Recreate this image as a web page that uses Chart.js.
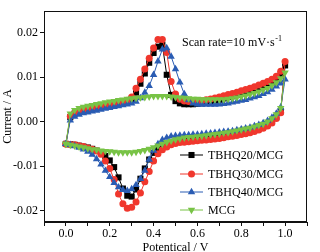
<!DOCTYPE html>
<html><head><meta charset="utf-8">
<script src="https://cdn.jsdelivr.net/npm/chart.js@4.4.1/dist/chart.umd.min.js"></script>
<style>html,body{margin:0;padding:0;background:#fff}#wrap{width:320px;height:252px;position:relative}</style>
</head><body><div id="wrap"><canvas id="c" width="320" height="252"></canvas></div>
<script>
const potential = [0.00,0.02,0.04,0.06,0.08,0.10,0.12,0.14,0.16,0.18,0.20,0.22,0.24,0.26,0.28,0.30,0.32,0.34,0.36,0.38,0.40,0.42,0.44,0.46,0.48,0.50,0.52,0.54,0.56,0.58,0.60,0.62,0.64,0.66,0.68,0.70,0.72,0.74,0.76,0.78,0.80,0.82,0.84,0.86,0.88,0.90,0.92,0.94,0.96,0.98,1.00];

const seriesNames = ['TBHQ20/MCG','TBHQ30/MCG','TBHQ40/MCG','MCG'];
const seriesColors = ['#000000','#f0372d','#2a5cb3','#78c346'];
const xTitle = 'Potentical / V';
const yTitle = 'Current / A';

// forward (anodic) scan, current at each potential
const tbhq20Anodic = [-0.0050,0.0010,0.0018,0.0022,0.0025,0.0027,0.0029,0.0031,0.0033,0.0035,0.0037,0.0039,0.0041,0.0043,0.0046,0.0051,0.0065,0.0085,0.0108,0.0132,0.0154,0.0168,0.0172,0.0105,0.0060,0.0046,0.0041,0.0039,0.0039,0.0039,0.0040,0.0041,0.0043,0.0045,0.0047,0.0049,0.0052,0.0055,0.0057,0.0060,0.0063,0.0066,0.0069,0.0072,0.0075,0.0079,0.0083,0.0088,0.0095,0.0106,0.0126];
const tbhq30Anodic = [-0.0050,0.0012,0.0020,0.0024,0.0027,0.0029,0.0031,0.0033,0.0035,0.0037,0.0039,0.0041,0.0043,0.0045,0.0048,0.0055,0.0075,0.0095,0.0118,0.0142,0.0165,0.0184,0.0184,0.0155,0.0090,0.0062,0.0050,0.0046,0.0045,0.0045,0.0046,0.0047,0.0049,0.0051,0.0053,0.0055,0.0058,0.0061,0.0063,0.0066,0.0069,0.0072,0.0075,0.0078,0.0082,0.0086,0.0090,0.0095,0.0102,0.0113,0.0135];
const tbhq40Anodic = [-0.0050,0.0003,0.0011,0.0016,0.0019,0.0021,0.0023,0.0025,0.0027,0.0029,0.0031,0.0033,0.0035,0.0037,0.0039,0.0041,0.0045,0.0053,0.0065,0.0080,0.0105,0.0135,0.0162,0.0165,0.0146,0.0118,0.0088,0.0062,0.0048,0.0041,0.0039,0.0038,0.0038,0.0038,0.0038,0.0039,0.0040,0.0041,0.0043,0.0045,0.0047,0.0049,0.0052,0.0055,0.0058,0.0062,0.0066,0.0072,0.0079,0.0086,0.0095];
const mcgAnodic = [-0.0050,0.0018,0.0026,0.0030,0.0033,0.0035,0.0037,0.0039,0.0041,0.0043,0.0045,0.0046,0.0048,0.0049,0.0051,0.0052,0.0053,0.0054,0.0055,0.0056,0.0057,0.0057,0.0057,0.0057,0.0056,0.0055,0.0054,0.0053,0.0052,0.0051,0.0051,0.0050,0.0050,0.0050,0.0050,0.0050,0.0050,0.0051,0.0052,0.0054,0.0056,0.0058,0.0061,0.0064,0.0067,0.0071,0.0075,0.0081,0.0088,0.0097,0.0110];

// reverse (cathodic) scan, current at each potential
const tbhq20Cathodic = [-0.0050,-0.0051,-0.0052,-0.0054,-0.0056,-0.0058,-0.0061,-0.0065,-0.0070,-0.0077,-0.0087,-0.0102,-0.0125,-0.0150,-0.0166,-0.0168,-0.0152,-0.0128,-0.0105,-0.0085,-0.0070,-0.0060,-0.0054,-0.0051,-0.0048,-0.0045,-0.0043,-0.0042,-0.0041,-0.0040,-0.0039,-0.0038,-0.0037,-0.0036,-0.0035,-0.0033,-0.0032,-0.0030,-0.0029,-0.0027,-0.0025,-0.0023,-0.0021,-0.0018,-0.0015,-0.0011,-0.0006,0.0001,0.0010,0.0023,0.0126];
const tbhq30Cathodic = [-0.0050,-0.0051,-0.0052,-0.0054,-0.0056,-0.0059,-0.0062,-0.0066,-0.0073,-0.0088,-0.0105,-0.0130,-0.0162,-0.0184,-0.0194,-0.0192,-0.0180,-0.0160,-0.0135,-0.0112,-0.0088,-0.0072,-0.0063,-0.0057,-0.0052,-0.0049,-0.0047,-0.0046,-0.0045,-0.0044,-0.0043,-0.0042,-0.0041,-0.0040,-0.0039,-0.0038,-0.0036,-0.0034,-0.0033,-0.0031,-0.0029,-0.0027,-0.0025,-0.0022,-0.0019,-0.0015,-0.0010,-0.0003,0.0007,0.0020,0.0135];
const tbhq40Cathodic = [-0.0050,-0.0052,-0.0055,-0.0058,-0.0062,-0.0067,-0.0074,-0.0084,-0.0096,-0.0110,-0.0124,-0.0137,-0.0147,-0.0153,-0.0155,-0.0151,-0.0142,-0.0128,-0.0110,-0.0085,-0.0065,-0.0050,-0.0041,-0.0036,-0.0033,-0.0032,-0.0031,-0.0030,-0.0030,-0.0029,-0.0029,-0.0028,-0.0027,-0.0026,-0.0025,-0.0024,-0.0023,-0.0022,-0.0021,-0.0019,-0.0017,-0.0015,-0.0013,-0.0010,-0.0007,-0.0003,0.0002,0.0009,0.0018,0.0032,0.0095];
const mcgCathodic = [-0.0050,-0.0052,-0.0054,-0.0056,-0.0058,-0.0060,-0.0062,-0.0063,-0.0065,-0.0066,-0.0067,-0.0068,-0.0069,-0.0069,-0.0069,-0.0069,-0.0068,-0.0066,-0.0064,-0.0061,-0.0058,-0.0054,-0.0050,-0.0046,-0.0043,-0.0040,-0.0038,-0.0036,-0.0035,-0.0034,-0.0033,-0.0032,-0.0031,-0.0029,-0.0028,-0.0027,-0.0025,-0.0024,-0.0022,-0.0020,-0.0018,-0.0016,-0.0014,-0.0011,-0.0008,-0.0005,0.0000,0.0007,0.0016,0.0030,0.0110];

const xTicks = [-0.1,0.0,0.1,0.2,0.3,0.4,0.5,0.6,0.7,0.8,0.9,1.0,1.1];
const xTickLabels = ['','0.0','','0.2','','0.4','','0.6','','0.8','','1.0',''];
const yTicks = [-0.02,-0.01,0.00,0.01,0.02];
const yTickLabels = ['-0.02','-0.01','0.00','0.01','0.02'];

const anodic = [tbhq20Anodic, tbhq30Anodic, tbhq40Anodic, mcgAnodic];
const cathodic = [tbhq20Cathodic, tbhq30Cathodic, tbhq40Cathodic, mcgCathodic];
const styles = [
  {pointStyle:'rect', radius:4.3, rotation:0},
  {pointStyle:'circle', radius:3.5, rotation:0},
  {pointStyle:'triangle', radius:4.3, rotation:0},
  {pointStyle:'triangle', radius:4.3, rotation:180}
];

function loop(i){
  const pts = [];
  potential.forEach((p,k)=>pts.push({x:p, y:anodic[i][k]}));
  for(let k=potential.length-2;k>=0;k--) pts.push({x:potential[k], y:cathodic[i][k]});
  return pts;
}

const FONT = 'Liberation Serif';
const datasets = seriesNames.map((n,i)=>({
  label:n, data:loop(i), showLine:true, tension:0,
  borderColor:seriesColors[i], backgroundColor:seriesColors[i], borderWidth:1,
  pointStyle:styles[i].pointStyle, pointRadius:styles[i].radius, pointRotation:styles[i].rotation,
  pointBorderWidth:0, pointBackgroundColor:seriesColors[i], pointHoverRadius:styles[i].radius,
  order: 4-i
}));

function drawMarker(ctx, st, color, x, y){
  ctx.save(); ctx.fillStyle=color; ctx.translate(x,y);
  ctx.rotate(st.rotation*Math.PI/180);
  ctx.beginPath();
  const r = st.radius;
  if(st.pointStyle==='rect'){ const s=r/Math.SQRT2; ctx.rect(-s,-s,2*s,2*s); }
  else if(st.pointStyle==='circle'){ ctx.arc(0,0,r,0,Math.PI*2); }
  else { for(let a=0;a<3;a++){ const ang=-Math.PI/2+a*2*Math.PI/3; const px=r*Math.cos(ang), py=r*Math.sin(ang); a?ctx.lineTo(px,py):ctx.moveTo(px,py);} ctx.closePath(); }
  ctx.fill(); ctx.restore();
}

const decor = {
  id:'decor',
  afterDatasetsDraw(chart){
    const ctx = chart.ctx, a = chart.chartArea;
    ctx.save();
    // frame
    ctx.strokeStyle='#111'; ctx.lineWidth=1;
    ctx.strokeRect(Math.round(a.left)+0.5, Math.round(a.top)+0.5, Math.round(a.right-a.left)-1, Math.round(a.bottom-a.top)-1);
    // annotation
    ctx.fillStyle='#000'; ctx.textBaseline='middle'; ctx.textAlign='left';
    ctx.font = '12px "'+FONT+'"';
    const t = 'Scan rate=10 mV\u00B7s';
    const tx = a.left+138, ty = a.top+32;
    ctx.fillText(t, tx, ty);
    const w = ctx.measureText(t).width;
    ctx.font = '8px "'+FONT+'"';
    ctx.fillText('-1', tx+w+0.5, ty-4);
    // x axis title
    ctx.font = '12px "'+FONT+'"';
    ctx.textAlign='center';
    ctx.fillText(xTitle, (a.left+a.right)/2, a.bottom+25.5);
    // legend
    ctx.textAlign='left';
    const rows = [144,163,181,199];
    seriesNames.forEach((n,i)=>{
      const y = a.top+rows[i];
      const x0 = a.left+136;
      ctx.strokeStyle=seriesColors[i]; ctx.lineWidth=1;
      ctx.beginPath(); ctx.moveTo(x0,y); ctx.lineTo(x0+23,y); ctx.stroke();
      drawMarker(ctx, styles[i], seriesColors[i], x0+11.5, y);
      ctx.fillStyle='#000';
      ctx.fillText(n, x0+28, y+0.5);
    });
    ctx.restore();
  }
};

new Chart(document.getElementById('c'), {
  type:'scatter',
  data:{datasets},
  options:{
    responsive:false, animation:false, devicePixelRatio:1,
    layout:{padding:{top:11,right:13,left:0,bottom:0}},
    plugins:{legend:{display:false}, tooltip:{enabled:false}},
    scales:{
      x:{type:'linear', min:-0.1, max:1.1,
        afterBuildTicks(s){ s.ticks = xTicks.map(v=>({value:v})); },
        afterFit(s){ s.height = 30; },
        grid:{display:true, drawOnChartArea:false, drawTicks:true, tickLength:4, color:'#111'},
        border:{display:true, color:'#111', width:1},
        ticks:{color:'#000', font:{family:FONT, size:12}, padding:1, maxRotation:0, autoSkip:false,
          callback:(v,i)=>xTickLabels[i]},
        title:{display:false}
      },
      y:{type:'linear', min:-0.0225, max:0.0248,
        afterBuildTicks(s){ s.ticks = yTicks.map(v=>({value:v})); },
        afterFit(s){ s.width = 44; },
        grid:{display:true, drawOnChartArea:false, drawTicks:true, tickLength:4, color:'#111'},
        border:{display:true, color:'#111', width:1},
        ticks:{color:'#000', font:{family:FONT, size:12}, padding:2, autoSkip:false,
          callback:(v,i)=>yTickLabels[i]},
        title:{display:true, text:yTitle, color:'#000', font:{family:FONT, size:12}, padding:{top:1,bottom:0}}
      }
    }
  },
  plugins:[decor]
});
</script></body></html>
